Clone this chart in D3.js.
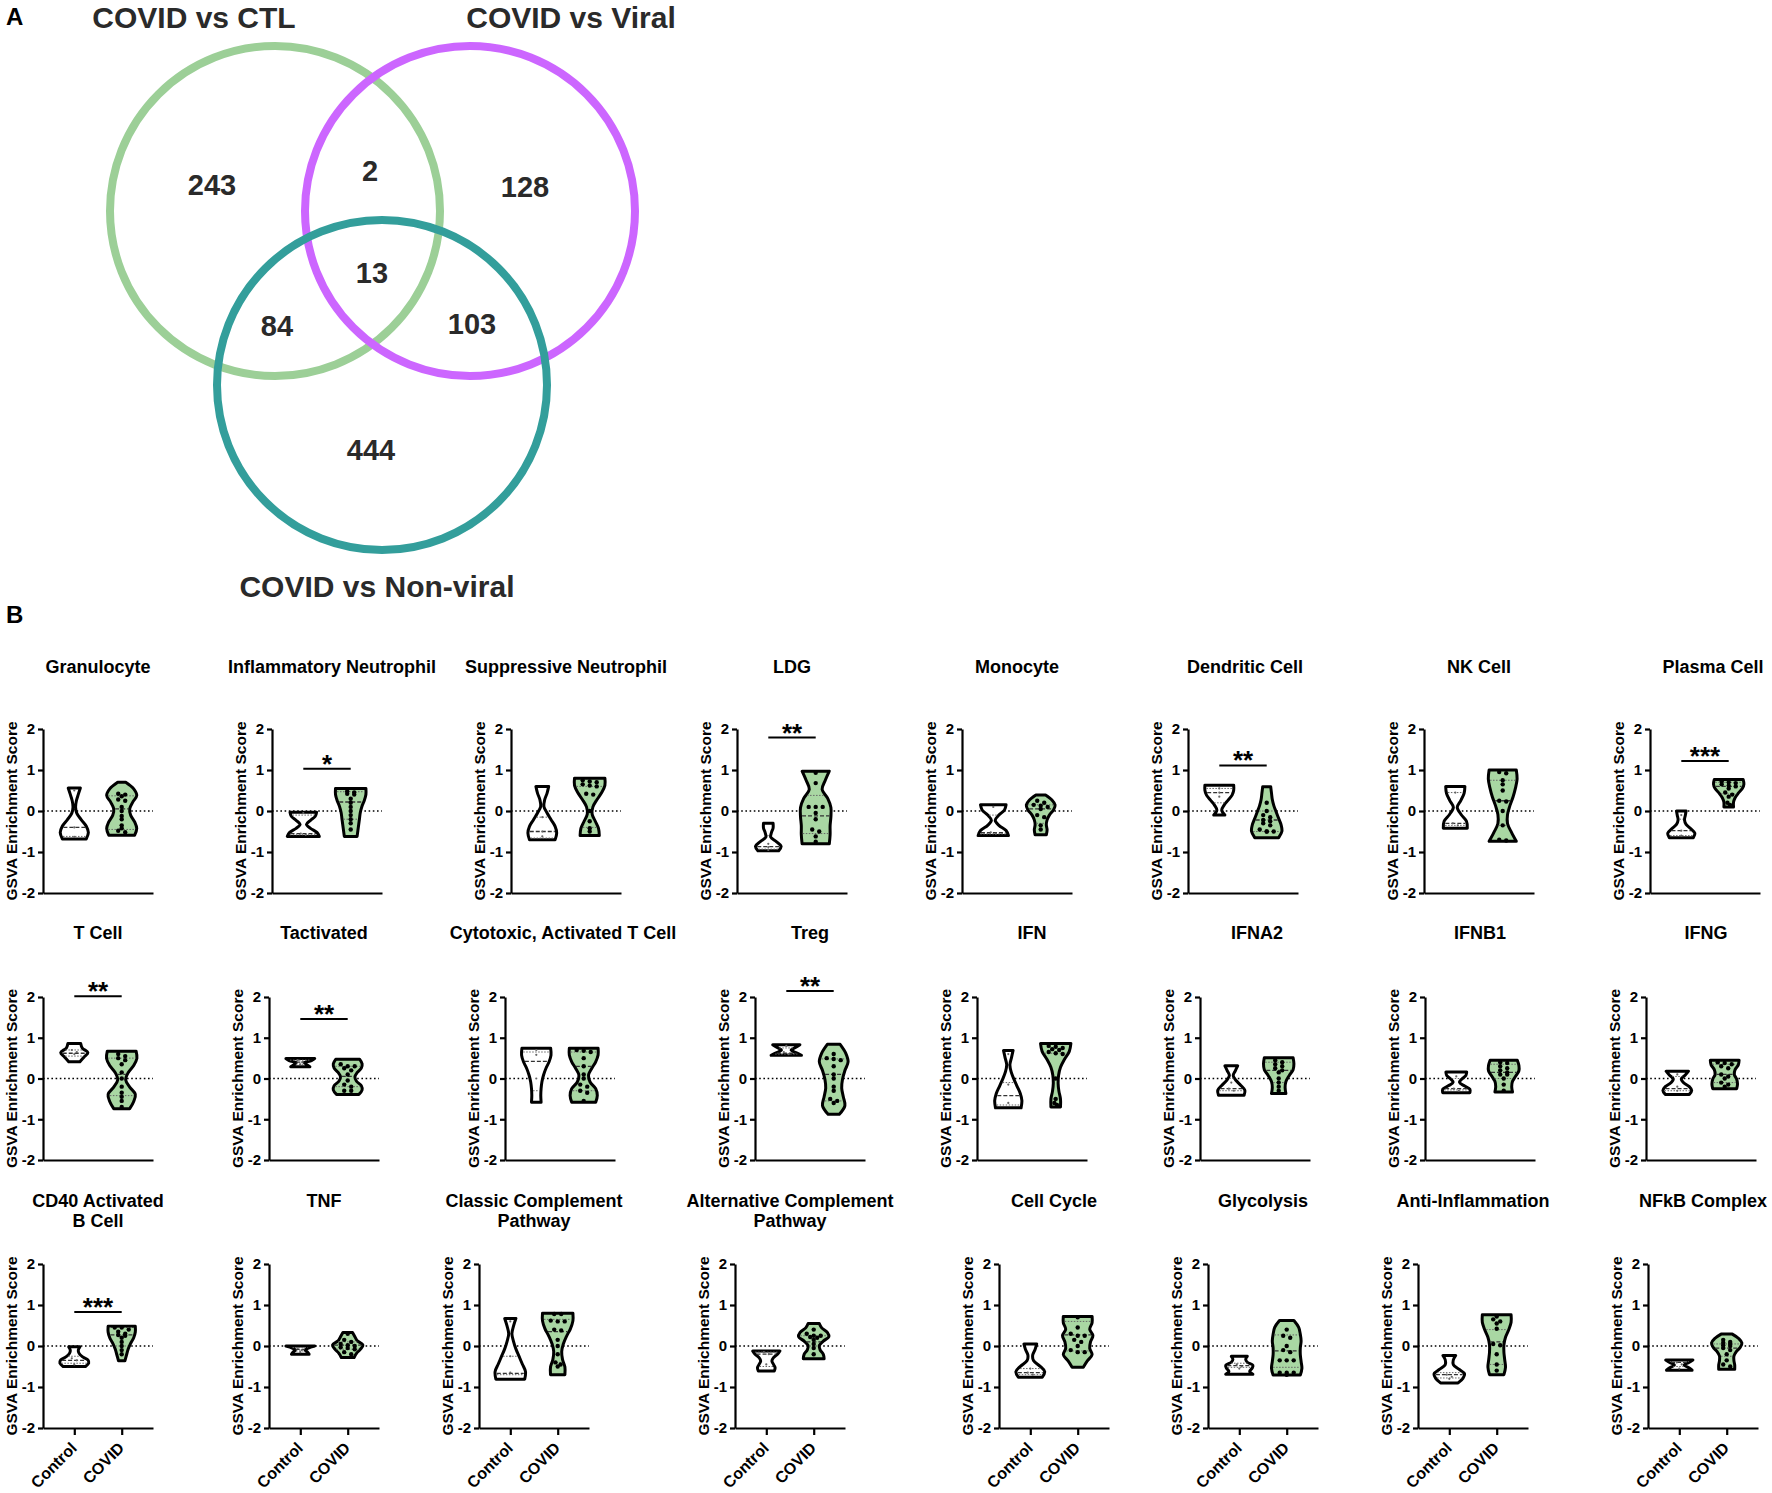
<!DOCTYPE html>
<html><head><meta charset="utf-8">
<script src="https://cdn.jsdelivr.net/npm/d3@7"></script>
<style>
body{margin:0;background:#fff}
svg{display:block}
text{font-family:"Liberation Sans",Arial,Helvetica,sans-serif}
</style>
</head><body>
<svg id="c" width="1772" height="1493"></svg>
<script>
// ---------------- DATA ----------------
const vennSets = ["COVID vs CTL", "COVID vs Viral", "COVID vs Non-viral"];
const vennRegions = ["A", "AB", "B", "ABC", "AC", "BC", "C"];
const vennCounts = [243, 2, 128, 13, 84, 103, 444];

const groups = ["Control", "COVID"];
const yTicks = [-2, -1, 0, 1, 2];
const yLabel = "GSVA Enrichment Score";

const titles = ["Granulocyte", "Inflammatory Neutrophil", "Suppressive Neutrophil", "LDG", "Monocyte", "Dendritic Cell", "NK Cell", "Plasma Cell",
  "T Cell", "Tactivated", "Cytotoxic, Activated T Cell", "Treg", "IFN", "IFNA2", "IFNB1", "IFNG",
  "CD40 Activated\nB Cell", "TNF", "Classic Complement\nPathway", "Alternative Complement\nPathway", "Cell Cycle", "Glycolysis", "Anti-Inflammation", "NFkB Complex"];

const sigStars = ["", "*", "", "**", "", "**", "", "***", "**", "**", "", "**", "", "", "", "", "***", "", "", "", "", "", "", ""];
const sigAt = [null, 1.03, null, 1.79, null, 1.11, null, 1.22, 2.02, 1.46, null, 2.15, null, null, null, null, 0.83, null, null, null, null, null, null, null];

// Control violins: [min, max], relative half-widths from min to max, [q1, median, q3], points
const ctrlRange = [[-0.68,0.56],[-0.62,-0.03],[-0.70,0.60],[-0.97,-0.30],[-0.60,0.15],[-0.10,0.63],[-0.42,0.60],[-0.65,0.00],
  [0.41,0.86],[0.29,0.49],[-0.58,0.74],[0.57,0.83],[-0.72,0.69],[-0.41,0.31],[-0.35,0.16],[-0.39,0.18],
  [-0.50,-0.02],[-0.20,0.00],[-0.81,0.67],[-0.61,-0.12],[-0.76,0.05],[-0.69,-0.25],[-0.90,-0.23],[-0.59,-0.34]];
const ctrlWidth = [
  [.75,.88,.75,.44,.16,.08,.13,.25,.38],[1.0,.85,.45,.2,.45,.75,.83],[.8,.9,.8,.55,.3,.1,.15,.3,.4],[.65,.8,.5,.15,.2,.3,.3],
  [.95,.8,.35,.12,.35,.7,.8],[.35,.15,.3,.55,.8,.9,.9],[.75,.7,.35,.12,.35,.55,.6],[.75,.85,.6,.3,.2,.25,.3],
  [.35,.6,.85,.5,.4],[.6,.4,.25,.7,.9],[.3,.28,.3,.35,.45,.6,.8,.92,.9],[.95,.6,.3,.6,.85],
  [.8,.85,.75,.55,.35,.18,.1,.2,.3],[.8,.85,.6,.3,.12,.25,.4],[.85,.85,.5,.2,.35,.6,.65],[.75,.9,.75,.4,.25,.5,.7],
  [.7,.9,.85,.5,.3,.25,.35],[.55,.45,.3,.5,.9],[.9,.95,.75,.55,.35,.2,.1,.2,.35],[.5,.55,.45,.35,.45,.7,.85],
  [.75,.9,.6,.2,.15,.3,.4],[.85,.65,.8,.85,.5,.4,.5],[.55,.85,.95,.6,.25,.25,.4],[.8,.6,.3,.6,.85]];
const ctrlStats = [[-0.62,-0.40,0.05],[-0.58,-0.55,-0.10],[-0.66,-0.50,-0.15],[-0.93,-0.87,-0.60],[-0.56,-0.53,-0.10],[0.20,0.45,0.55],[-0.35,-0.30,0.45],[-0.60,-0.48,-0.20],
  [0.55,0.62,0.70],[0.35,0.40,0.45],[-0.30,0.42,0.65],[0.60,0.62,0.75],[-0.65,-0.42,-0.10],[-0.30,-0.25,0.00],[-0.28,-0.25,0.00],[-0.30,-0.25,0.05],
  [-0.42,-0.35,-0.25],[-0.12,-0.08,-0.04],[-0.70,-0.67,-0.25],[-0.50,-0.20,-0.15],[-0.70,-0.65,-0.55],[-0.52,-0.48,-0.42],[-0.78,-0.70,-0.65],[-0.50,-0.40,-0.38]];
const ctrlPts = [[-0.63,-0.40,0.50],[-0.58,-0.55,-0.05],[-0.62,-0.50,-0.15],[-0.95,-0.88,-0.80],[-0.55,-0.52,0.10],[0.55,0.35,0.45],[-0.35,-0.30,0.45],[-0.60,-0.48,-0.10],
  [0.60,0.65,0.70],[0.45,0.40,0.35],[0.58,0.00,0.70],[0.60,0.65,0.80],[-0.60,-0.15,0.60],[-0.25,-0.30,-0.10],[-0.25,-0.30,0.05],[-0.30,-0.20,0.10],
  [-0.35,-0.30,-0.45],[-0.05,-0.10,-0.15],[-0.65,-0.25,0.60],[-0.20,-0.45,-0.15],[-0.65,-0.55,-0.70],[-0.45,-0.50,-0.55],[-0.70,-0.75,-0.80],[-0.40,-0.45,-0.55]];

// COVID violins
const covidRange = [[-0.59,0.70],[-0.62,0.55],[-0.60,0.80],[-0.80,0.97],[-0.58,0.39],[-0.65,0.59],[-0.74,1.00],[0.10,0.77],
  [-0.74,0.67],[-0.39,0.47],[-0.58,0.74],[-0.88,0.84],[-0.70,0.86],[-0.37,0.51],[-0.33,0.45],[-0.25,0.45],
  [-0.36,0.48],[-0.28,0.33],[-0.70,0.80],[-0.31,0.55],[-0.52,0.72],[-0.71,0.62],[-0.70,0.76],[-0.57,0.29]];
const covidWidth = [
  [.81,.94,.81,.56,.5,.69,.94,.75,.25],[.4,.45,.5,.55,.6,.7,.85,.95,.95],[.6,.55,.35,.15,.2,.45,.75,.95,.95],[.85,.9,.9,.95,.95,.75,.4,.6,.85],
  [.35,.4,.35,.4,.55,.8,.9,.7,.3],[.75,.95,.9,.75,.6,.45,.35,.3,.25],[.85,.55,.3,.3,.45,.65,.8,.9,.85],[.3,.3,.4,.6,.85,.95,.9],
  [.5,.75,.85,.5,.25,.4,.75,.95,.9],[.7,.9,.85,.55,.45,.6,.85,.9,.75],[.75,.85,.75,.4,.3,.5,.75,.9,.9],[.35,.7,.6,.5,.55,.7,.9,.75,.4],
  [.3,.3,.2,.15,.18,.3,.55,.85,.95],[.45,.4,.45,.65,.9,.95,.9],[.55,.5,.55,.75,.95,.95,.85],[.75,.8,.75,.6,.65,.85,.9],
  [.2,.3,.4,.55,.75,.85,.85],[.4,.55,.8,.95,.6,.45,.3],[.45,.45,.3,.25,.35,.55,.8,.95,.95],[.65,.6,.4,.35,.6,.95,.85,.5,.35],
  [.35,.6,.9,.75,.8,.95,.75,.9,.9],[.85,.95,.9,.85,.85,.9,.85,.75,.45],[.45,.55,.5,.45,.45,.55,.75,.9,.9],[.5,.5,.45,.45,.6,.85,.95,.75,.35]];
const covidStats = [[-0.45,0.05,0.37],[-0.20,0.22,0.47],[-0.40,0.00,0.60],[-0.55,-0.12,0.38],[-0.30,0.05,0.15],[-0.50,-0.22,0.00],[-0.35,0.25,0.75],[0.42,0.60,0.70],
  [-0.42,0.10,0.50],[-0.20,0.05,0.30],[-0.30,0.30,0.65],[-0.55,0.10,0.48],[-0.50,0.00,0.62],[-0.10,0.20,0.40],[0.00,0.15,0.35],[-0.10,0.10,0.35],
  [0.00,0.27,0.45],[-0.08,0.02,0.10],[-0.40,0.35,0.65],[0.00,0.10,0.25],[-0.12,0.27,0.60],[-0.52,-0.12,0.27],[-0.45,0.10,0.40],[-0.25,-0.05,0.05]];
const covidPts = [
  [0.42,0.40,0.36,0.28,0.25,0.10,0.00,-0.12,-0.20,-0.35,-0.42,-0.48,-0.52],
  [0.48,0.45,0.42,0.40,0.30,0.20,0.10,0.00,-0.10,-0.20,-0.30,-0.45],
  [0.75,0.72,0.70,0.65,0.62,0.60,0.42,0.40,0.00,-0.25,-0.42,-0.50],
  [0.93,0.68,0.10,0.10,0.10,-0.05,-0.20,-0.45,-0.50,-0.62,-0.75],
  [0.25,0.20,0.15,0.13,0.10,0.05,-0.10,-0.15,-0.35,-0.45],
  [0.20,0.00,-0.10,-0.15,-0.22,-0.25,-0.30,-0.35,-0.45,-0.50,-0.50,-0.50],
  [0.95,0.92,0.75,0.65,0.50,0.25,0.23,0.00,-0.35,-0.70,-0.72],
  [0.72,0.70,0.68,0.65,0.62,0.60,0.55,0.45,0.40,0.35,0.20,0.15],
  [0.60,0.55,0.50,0.45,0.35,0.15,0.00,-0.20,-0.35,-0.45,-0.55,-0.70],
  [0.35,0.30,0.30,0.25,0.20,0.10,-0.05,-0.15,-0.20,-0.30,-0.30],
  [0.70,0.68,0.65,0.50,0.30,0.10,0.00,-0.15,-0.20,-0.30,-0.35,-0.55],
  [0.60,0.50,0.48,0.45,0.30,0.10,0.00,-0.20,-0.30,-0.50,-0.55,-0.60],
  [0.80,0.78,0.75,0.72,0.70,0.65,0.62,0.60,0.00,-0.50,-0.60,-0.65],
  [0.45,0.40,0.35,0.30,0.25,0.20,0.15,0.00,-0.10,-0.20,-0.30],
  [0.40,0.38,0.30,0.25,0.20,0.15,0.10,0.10,0.00,-0.15,-0.30],
  [0.40,0.38,0.35,0.30,0.25,0.10,0.05,0.00,-0.10,-0.15,-0.20],
  [0.45,0.45,0.40,0.35,0.30,0.27,0.25,0.20,0.10,0.00,-0.10,-0.20],
  [0.30,0.15,0.10,0.05,0.02,0.00,-0.03,-0.05,-0.08,-0.15,-0.20],
  [0.78,0.78,0.62,0.60,0.60,0.40,0.38,0.15,0.00,-0.20,-0.40,-0.45,-0.50],
  [0.40,0.30,0.25,0.25,0.22,0.20,0.15,0.05,-0.05,-0.20],
  [0.70,0.45,0.30,0.25,0.25,0.15,0.10,0.00,-0.10,-0.15,-0.15],
  [0.40,0.25,0.20,0.00,-0.10,-0.15,-0.35,-0.35,-0.35,-0.65,-0.65,-0.65,-0.70],
  [0.72,0.65,0.60,0.55,0.42,0.05,0.02,-0.20,-0.45,-0.60],
  [0.15,0.10,0.08,0.05,0.02,0.00,-0.05,-0.10,-0.20,-0.35,-0.45,-0.50]];

// ---------------- LAYOUT ----------------
const FONT = '"Liberation Sans",Arial,Helvetica,sans-serif';
const svg = d3.select("#c");

const venn = { circles: [[275,211],[470,211],[382,385]], r: 165, stroke: 8,
  colors: ["#9ccf97", "#cc66ff", "#339e9b"],
  titlePos: [[194,28],[571,28],[377,597]],
  labelPos: [[212,185],[370,171],[525,187],[372,273],[277,326],[472,324],[371,450]] };

const rowsY = [[729,893],[997,1160],[1264,1428]];
const titleY = [667, 933, 1201];
const axisX = [[43,272,511,737,962,1188,1424,1650],[43,269,505,755,977,1200,1425,1646],[43,269,479,735,999,1208,1418,1648]];
const titleDx = [[0,5,0,0,0,2,0,8],[0,0,3,0,0,2,0,5],[0,0,0,0,0,0,0,0]];
const AXW = 110, MAXW = 16;
const covidFill = "#a9d7a3";

// Panel letters
svg.append("text").attr("x", 6).attr("y", 25).attr("font-size", 24).attr("font-weight", "bold").text("A");
svg.append("text").attr("x", 6).attr("y", 623).attr("font-size", 24).attr("font-weight", "bold").text("B");

// ---------------- VENN ----------------
const vg = svg.append("g");
venn.circles.forEach((c, i) => {
  vg.append("circle").attr("cx", c[0]).attr("cy", c[1]).attr("r", venn.r)
    .attr("fill", "none").attr("stroke", venn.colors[i]).attr("stroke-width", venn.stroke);
});
vennSets.forEach((s, i) => {
  vg.append("text").attr("x", venn.titlePos[i][0]).attr("y", venn.titlePos[i][1])
    .attr("text-anchor", "middle").attr("font-size", 30).attr("font-weight", "bold").attr("fill", "#2a2a2a").text(s);
});
vennCounts.forEach((n, i) => {
  vg.append("text").attr("x", venn.labelPos[i][0]).attr("y", venn.labelPos[i][1])
    .attr("text-anchor", "middle").attr("dominant-baseline", "central")
    .attr("font-size", 29).attr("font-weight", "bold").attr("fill", "#2a2a2a").text(n);
});

// ---------------- VIOLINS ----------------
function profile(range, widths) {
  const n = widths.length;
  return widths.map((w, k) => ({ v: range[0] + k * (range[1] - range[0]) / (n - 1), w: w * MAXW }));
}
function widthAtFn(prof) {
  const s = d3.scaleLinear().domain(prof.map(d => d.v)).range(prof.map(d => d.w)).clamp(true);
  return v => s(v);
}
function dotLayout(vals, cx, widthAt, spacing) {
  const sorted = vals.slice().sort((a, b) => b - a);
  const rows = [];
  sorted.forEach(v => {
    const last = rows[rows.length - 1];
    if (last && Math.abs(last[0] - v) < 0.06 && last.length < 3) last.push(v); else rows.push([v]);
  });
  const out = [];
  rows.forEach(r => r.forEach((v, j) => {
    const off = (j - (r.length - 1) / 2) * spacing;
    const w = Math.max(widthAt(v) - 3.5, 0);
    out.push([cx + Math.max(-w, Math.min(w, off)), v]);
  }));
  return out;
}

titles.forEach((t, i) => {
  const r = Math.floor(i / 8), c = i % 8;
  const x0 = axisX[r][c];
  const g = svg.append("g").attr("transform", `translate(${x0},0)`);
  const y = d3.scaleLinear().domain([-2, 2]).range([rowsY[r][1], rowsY[r][0]]);
  const x = d3.scalePoint().domain(groups).range([0, AXW]).padding(0.66);

  // title
  const lines = t.split("\n");
  const tt = g.append("text").attr("text-anchor", "middle").attr("font-size", 18).attr("font-weight", "bold");
  lines.forEach((l, k) => tt.append("tspan").attr("x", AXW / 2 + titleDx[r][c]).attr("y", titleY[r] + 6 + k * 20).text(l));

  // y axis
  const ya = g.append("g").call(d3.axisLeft(y).tickValues(yTicks).tickSize(5).tickSizeOuter(0).tickPadding(3).tickFormat(d => String(d)));
  ya.select(".domain").attr("stroke-width", 2.2);
  ya.selectAll(".tick line").attr("stroke-width", 2.2);
  ya.selectAll(".tick text").attr("font-size", 15).attr("font-weight", "bold").attr("font-family", FONT);
  g.append("text").attr("transform", `translate(-32,${y(0)}) rotate(-90)`).attr("text-anchor", "middle")
    .attr("dominant-baseline", "central").attr("font-size", 15.5).attr("font-weight", "bold").text(yLabel);

  // x axis
  const xa = g.append("g").attr("transform", `translate(0,${y(-2)})`);
  if (r === 2) {
    xa.call(d3.axisBottom(x).tickSize(7).tickSizeOuter(0));
    xa.selectAll(".tick text").attr("x", 0).attr("y", 0).attr("dy", 0)
      .attr("transform", "translate(3,21) rotate(-45)").attr("text-anchor", "end")
      .attr("font-size", 16).attr("font-weight", "bold").attr("font-family", FONT);
  } else {
    xa.call(d3.axisBottom(x).tickValues([]).tickSizeOuter(0));
  }
  xa.select(".domain").attr("stroke-width", 2.2);
  xa.selectAll(".tick line").attr("stroke-width", 2.2);

  // zero line
  g.append("line").attr("x1", 0).attr("x2", AXW).attr("y1", y(0)).attr("y2", y(0))
    .attr("stroke", "#000").attr("stroke-width", 1.6).attr("stroke-dasharray", "1.6,2.6");

  const area = d3.area().curve(d3.curveCatmullRom.alpha(0.5));
  const sets = [
    { g: "Control", range: ctrlRange[i], w: ctrlWidth[i], stats: ctrlStats[i], pts: ctrlPts[i], fill: "#fff", r: 1.1, dot: "#666", sp: 5 },
    { g: "COVID", range: covidRange[i], w: covidWidth[i], stats: covidStats[i], pts: covidPts[i], fill: covidFill, r: 2.2, dot: "#000", sp: 7 }
  ];
  sets.forEach(s => {
    const cx = x(s.g);
    const prof = profile(s.range, s.w);
    const wAt = widthAtFn(prof);
    area.y(d => y(d.v)).x0(d => cx - d.w).x1(d => cx + d.w);
    g.append("path").attr("d", area(prof)).attr("fill", s.fill).attr("stroke", "#000")
      .attr("stroke-width", 3).attr("stroke-linejoin", "round");
    s.stats.forEach((q, k) => {
      if (q <= s.range[0] || q >= s.range[1]) return;
      const w = Math.max(wAt(q) - 1.5, 0);
      g.append("line").attr("x1", cx - w).attr("x2", cx + w).attr("y1", y(q)).attr("y2", y(q))
        .attr("stroke", k === 1 ? "#333" : "#666").attr("stroke-width", k === 1 ? 1.3 : 1)
        .attr("stroke-dasharray", k === 1 ? "4,2" : "1.5,1.5");
    });
    dotLayout(s.pts, cx, wAt, s.sp).forEach(p => {
      g.append("circle").attr("cx", p[0]).attr("cy", y(p[1])).attr("r", s.r).attr("fill", s.dot);
    });
  });

  // significance
  if (sigAt[i] !== null) {
    const ly = y(sigAt[i]);
    g.append("line").attr("x1", x("Control")).attr("x2", x("COVID")).attr("y1", ly).attr("y2", ly)
      .attr("stroke", "#000").attr("stroke-width", 2);
    g.append("text").attr("x", (x("Control") + x("COVID")) / 2).attr("y", ly + 4)
      .attr("text-anchor", "middle").attr("font-size", 26).attr("font-weight", "bold").text(sigStars[i]);
  }
});
</script>
</body></html>
